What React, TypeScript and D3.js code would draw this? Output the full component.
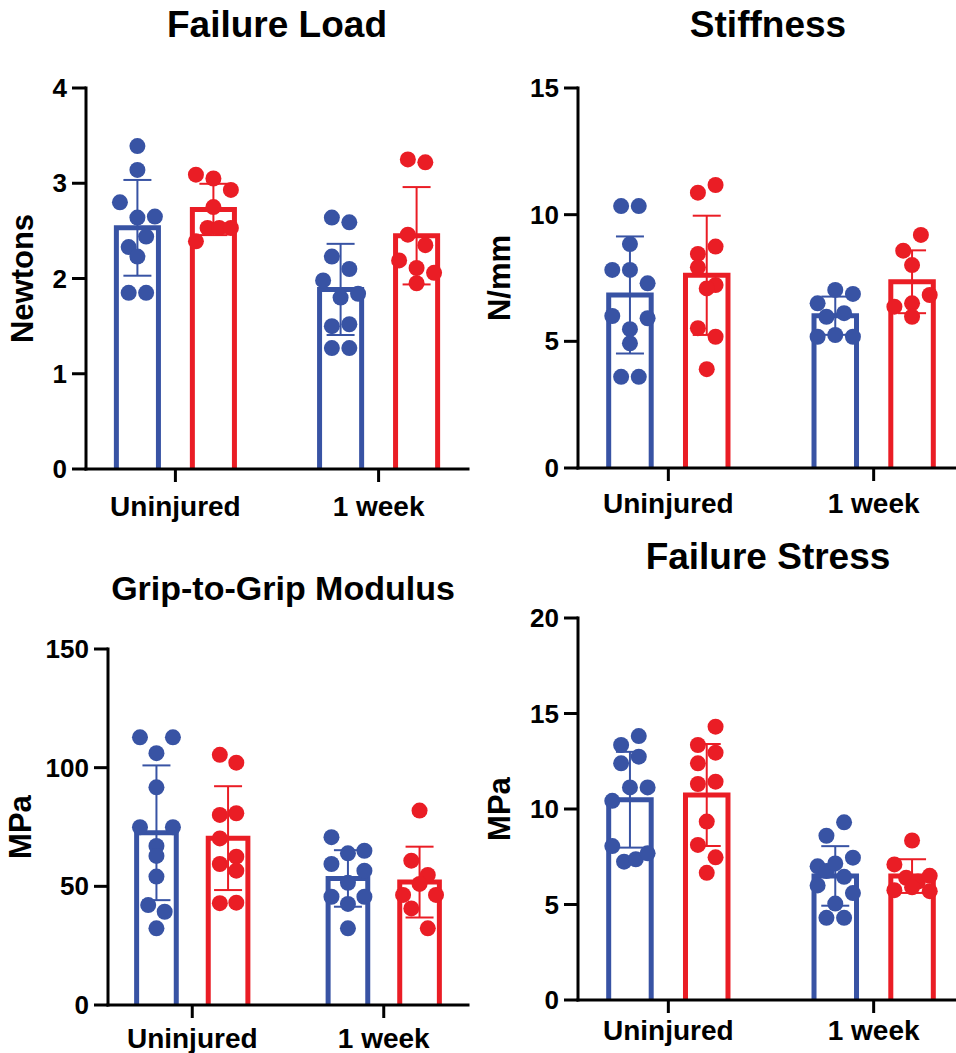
import React from 'react';
import * as d3 from 'd3';

// ---------- data ----------
const categories = ['Uninjured', '1 week'];
const seriesColors = ['#3853A4', '#EA1D25'];

// Failure Load (Newtons)
const loadUninjuredBlue = [3.39, 3.14, 2.80, 2.64, 2.65, 2.33, 2.44, 2.23, 1.85, 1.85];
const loadUninjuredRed = [3.09, 3.05, 2.93, 2.75, 2.39, 2.53, 2.53, 2.53];
const loadWeekBlue = [2.64, 2.59, 2.23, 2.10, 1.98, 1.80, 1.84, 1.50, 1.52, 1.27, 1.27];
const loadWeekRed = [3.25, 3.22, 2.46, 2.35, 2.19, 2.11, 2.06, 1.95];

// Stiffness (N/mm)
const stiffUninjuredBlue = [10.34, 10.34, 8.84, 7.82, 7.82, 7.29, 6.0, 5.48, 5.91, 4.92, 3.6, 3.6];
const stiffUninjuredRed = [10.87, 11.17, 8.45, 8.74, 7.92, 7.22, 7.09, 5.52, 5.18, 3.9];
const stiffWeekBlue = [6.5, 7.03, 6.87, 5.97, 6.11, 5.18, 5.25, 5.18];
const stiffWeekRed = [8.58, 9.2, 8.01, 6.37, 6.5, 6.83, 5.97];

// Grip-to-Grip Modulus (MPa)
const modUninjuredBlue = [112.8, 106.1, 112.8, 91.7, 74.9, 67.0, 74.9, 62.8, 54.1, 42.1, 39.3, 32.3];
const modUninjuredRed = [105.4, 102.1, 80.1, 80.8, 70.2, 62.5, 59.4, 56.6, 42.9, 43.1];
const modWeekBlue = [70.7, 63.9, 65.0, 59.4, 51.5, 56.6, 45.6, 42.6, 45.6, 32.3];
const modWeekRed = [81.9, 60.8, 54.8, 46.4, 51.0, 46.4, 40.7, 32.3];

// Failure Stress (MPa)
const stressUninjuredBlue = [13.35, 13.82, 12.39, 12.74, 10.43, 11.13, 11.13, 8.06, 7.24, 7.37, 7.68];
const stressUninjuredRed = [13.35, 14.31, 12.39, 12.95, 11.31, 11.43, 9.34, 8.12, 7.47, 6.66];
const stressWeekBlue = [8.6, 9.3, 7.0, 6.75, 7.15, 6.45, 7.45, 6.0, 5.05, 5.6, 4.3, 4.3];
const stressWeekRed = [8.35, 7.1, 6.4, 5.75, 6.2, 5.9, 5.7, 6.5];

const loadTicks = [0, 1, 2, 3, 4];
const stiffTicks = [0, 5, 10, 15];
const modTicks = [0, 50, 100, 150];
const stressTicks = [0, 5, 10, 15, 20];

// ---------- layout ----------
const FONT = '"Liberation Sans", Arial, Helvetica, sans-serif';
const layouts = [
  { x0: 86, x1: 468, yTop: 88, yBottom: 469, titleX: 277, titleY: 37, titleSize: 37, yLabelX: 22, catDy: 47 },
  { x0: 578, x1: 964, yTop: 88, yBottom: 468, titleX: 768, titleY: 37, titleSize: 37, yLabelX: 499, catDy: 45 },
  { x0: 108, x1: 468, yTop: 649, yBottom: 1005, titleX: 283, titleY: 600, titleSize: 34, yLabelX: 20, catDy: 43 },
  { x0: 578, x1: 964, yTop: 618, yBottom: 1000, titleX: 768, titleY: 569, titleSize: 37, yLabelX: 499, catDy: 40 },
];

const panels = [
  { title: 'Failure Load', yLabel: 'Newtons', ticks: loadTicks,
    series: [[loadUninjuredBlue, loadUninjuredRed], [loadWeekBlue, loadWeekRed]] },
  { title: 'Stiffness', yLabel: 'N/mm', ticks: stiffTicks,
    series: [[stiffUninjuredBlue, stiffUninjuredRed], [stiffWeekBlue, stiffWeekRed]] },
  { title: 'Grip-to-Grip Modulus', yLabel: 'MPa', ticks: modTicks,
    series: [[modUninjuredBlue, modUninjuredRed], [modWeekBlue, modWeekRed]] },
  { title: 'Failure Stress', yLabel: 'MPa', ticks: stressTicks,
    series: [[stressUninjuredBlue, stressUninjuredRed], [stressWeekBlue, stressWeekRed]] },
];

// row-based scatter arrangement (like Prism's)
function swarm(values: number[], y: (v: number) => number, s: number, rowH: number) {
  const idx = values.map((_, i) => i).sort((a, b) => values[b] - values[a] || a - b);
  const rows: number[][] = [];
  let cur: number[] = [];
  let startY = 0;
  for (const i of idx) {
    const py = y(values[i]);
    if (cur.length && py - startY <= rowH) cur.push(i);
    else {
      if (cur.length) rows.push(cur);
      cur = [i];
      startY = py;
    }
  }
  if (cur.length) rows.push(cur);
  const out: { v: number; dx: number }[] = [];
  for (const row of rows) {
    row.sort((a, b) => a - b);
    const n = row.length;
    const sp = n <= 3 ? s : (2 * s) / (n - 1);
    row.forEach((i, k) => out.push({ v: values[i], dx: (k - (n - 1) / 2) * sp }));
  }
  return out;
}

function Panel({ spec, lay }: { spec: any; lay: any }) {
  const ticks: number[] = spec.ticks;
  const y = d3.scaleLinear().domain([0, ticks[ticks.length - 1]]).range([lay.yBottom, lay.yTop]);
  const x = d3.scalePoint<string>().domain(categories).range([lay.x0, lay.x1]).padding(0.44);
  const step = x.step();
  const sub = d3.scalePoint<number>().domain([0, 1]).range([-step * 0.187, step * 0.187]);
  const bw = step * 0.207;
  const dotS = step * 0.086;
  const capW = 28;
  const yMid = (lay.yTop + lay.yBottom) / 2;

  return (
    <g>
      <text x={lay.titleX} y={lay.titleY} textAnchor="middle" fontSize={lay.titleSize} fontWeight="bold" fontFamily={FONT} fill="#000">
        {spec.title}
      </text>
      <text
        transform={`translate(${lay.yLabelX},${yMid}) rotate(-90)`}
        textAnchor="middle"
        dominantBaseline="central"
        fontSize={31}
        fontWeight="bold"
        fontFamily={FONT}
        fill="#000"
      >
        {spec.yLabel}
      </text>

      {categories.map((c, ci) =>
        spec.series[ci].map((vals: number[], si: number) => {
          const cx = (x(c) as number) + (sub(si) as number);
          const m = d3.mean(vals) as number;
          const sd = d3.deviation(vals) as number;
          const color = seriesColors[si];
          const barPath = d3.path();
          barPath.moveTo(cx - bw / 2, lay.yBottom);
          barPath.lineTo(cx - bw / 2, y(m));
          barPath.lineTo(cx + bw / 2, y(m));
          barPath.lineTo(cx + bw / 2, lay.yBottom);
          const pts = swarm(vals, y, dotS, 20);
          return (
            <g key={`${ci}-${si}`}>
              <path d={barPath.toString()} fill="none" stroke={color} strokeWidth={5} strokeLinejoin="miter" />
              <line x1={cx} x2={cx} y1={y(m + sd)} y2={y(m - sd)} stroke={color} strokeWidth={2} />
              <line x1={cx - capW / 2} x2={cx + capW / 2} y1={y(m + sd)} y2={y(m + sd)} stroke={color} strokeWidth={2} />
              <line x1={cx - capW / 2} x2={cx + capW / 2} y1={y(m - sd)} y2={y(m - sd)} stroke={color} strokeWidth={2} />
              {pts.map((p, k) => (
                <circle key={k} cx={cx + p.dx} cy={y(p.v)} r={8} fill={color} />
              ))}
            </g>
          );
        })
      )}

      {/* axes */}
      <line x1={lay.x0} x2={lay.x0} y1={lay.yTop} y2={lay.yBottom} stroke="#000" strokeWidth={3} strokeLinecap="square" />
      <line x1={lay.x0} x2={lay.x1} y1={lay.yBottom} y2={lay.yBottom} stroke="#000" strokeWidth={3} strokeLinecap="square" />
      {ticks.map((t) => (
        <g key={t}>
          <line x1={lay.x0 - 14} x2={lay.x0} y1={y(t)} y2={y(t)} stroke="#000" strokeWidth={3} />
          <text x={lay.x0 - 19} y={y(t)} textAnchor="end" dominantBaseline="central" fontSize={26} fontWeight="bold" fontFamily={FONT} fill="#000">
            {t}
          </text>
        </g>
      ))}
      {categories.map((c) => (
        <g key={c}>
          <line x1={x(c)} x2={x(c)} y1={lay.yBottom} y2={lay.yBottom + 13} stroke="#000" strokeWidth={3} />
          <text x={x(c)} y={lay.yBottom + lay.catDy} textAnchor="middle" fontSize={28} fontWeight="bold" fontFamily={FONT} fill="#000">
            {c}
          </text>
        </g>
      ))}
    </g>
  );
}

export default function App() {
  return (
    <svg
      width={956}
      height={1053}
      viewBox="0 0 956 1053"
      style={{ position: 'absolute', left: 0, top: 0, background: '#fff' }}
    >
      <rect x={0} y={0} width={956} height={1053} fill="#fff" />
      {panels.map((p, i) => (
        <Panel key={i} spec={p} lay={layouts[i]} />
      ))}
    </svg>
  );
}
